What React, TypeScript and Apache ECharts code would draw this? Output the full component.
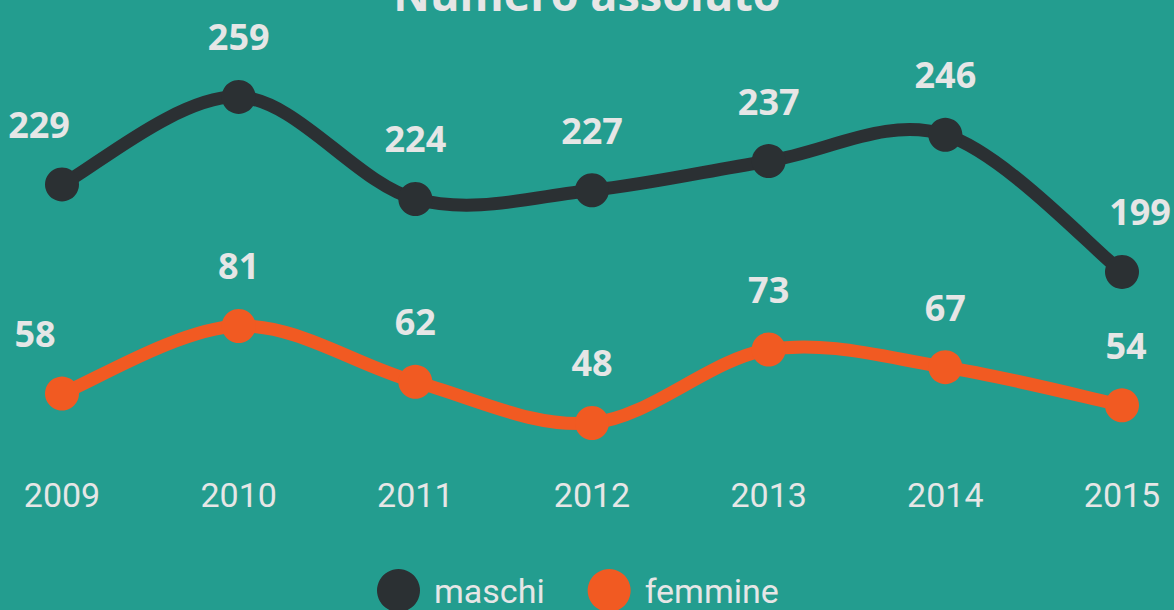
import React, { useEffect, useRef } from "react";
import * as echarts from "echarts";

const years = ["2009", "2010", "2011", "2012", "2013", "2014", "2015"];
const maschi = [229, 259, 224, 227, 237, 246, 199];
const femmine = [58, 81, 62, 48, 73, 67, 54];
const titleText = "Numero assoluto";

const TEXT = "#e6e6e6";
const BG = "#239d8f";
const DARK = "#2b3033";
const ORANGE = "#f15a22";

export default function App() {
  const ref = useRef<HTMLDivElement>(null);
  useEffect(() => {
    if (!ref.current) return;
    const chart = echarts.init(ref.current, null, { renderer: "svg" });
    const last = years.length - 1;
    const mk = (arr: number[], firstOff: number, lastOff: number) =>
      arr.map((v, i) =>
        i === 0
          ? { value: v, label: { offset: [firstOff, 0] } }
          : i === last
          ? { value: v, label: { offset: [lastOff, 0] } }
          : v
      );
    const labelStyle = {
      show: true,
      position: "top",
      distance: 25,
      color: TEXT,
      fontFamily: "Open Sans",
      fontWeight: "bold",
      fontSize: 36,
    };
    // Catmull-Rom (cardinal, tension 0) curve drawn segment by segment
    const curveSeries = (arr: number[], axis: number, color: string) => ({
      type: "custom",
      yAxisIndex: axis,
      silent: true,
      z: 1,
      data: arr.slice(0, -1).map((v, i) => [i, v]),
      renderItem: (params: any, api: any) => {
        const i = params.dataIndex;
        const pt = (j: number) => {
          const k = Math.max(0, Math.min(arr.length - 1, j));
          return api.coord([k, arr[k]]);
        };
        const p0 = pt(i - 1);
        const p1 = pt(i);
        const p2 = pt(i + 1);
        const p3 = pt(i + 2);
        return {
          type: "bezierCurve",
          shape: {
            x1: p1[0],
            y1: p1[1],
            x2: p2[0],
            y2: p2[1],
            cpx1: p1[0] + (p2[0] - p0[0]) / 6,
            cpy1: p1[1] + (p2[1] - p0[1]) / 6,
            cpx2: p2[0] - (p3[0] - p1[0]) / 6,
            cpy2: p2[1] - (p3[1] - p1[1]) / 6,
          },
          style: { stroke: color, lineWidth: 13, fill: null, lineCap: "round" },
        };
      },
    });
    chart.setOption({
      animation: false,
      backgroundColor: BG,
      title: {
        text: titleText,
        left: "center",
        top: -34,
        textStyle: { color: TEXT, fontFamily: "Open Sans", fontWeight: "bold", fontSize: 45 },
      },
      legend: {
        data: [
          { name: "maschi", icon: "circle" },
          { name: "femmine", icon: "circle" },
        ],
        top: 569,
        left: 377,
        padding: 0,
        itemWidth: 43,
        itemHeight: 43,
        itemGap: 43,
        textStyle: { color: TEXT, fontFamily: "Roboto", fontSize: 34, padding: [0, 0, 0, 9] },
      },
      grid: { left: 62, right: 52, top: 40, bottom: 140 },
      xAxis: {
        type: "category",
        data: years,
        boundaryGap: false,
        axisLine: { show: false },
        axisTick: { show: false },
        splitLine: { show: false },
        axisLabel: { color: TEXT, fontFamily: "Roboto", fontSize: 34, margin: 8 },
      },
      yAxis: [
        { type: "value", min: 131.1, max: 278.5, show: false, splitLine: { show: false } },
        { type: "value", min: 32, max: 178.3, show: false, splitLine: { show: false } },
      ],
      series: [
        curveSeries(maschi, 0, DARK),
        curveSeries(femmine, 1, ORANGE),
        {
          name: "maschi",
          type: "line",
          yAxisIndex: 0,
          z: 3,
          data: mk(maschi, -23, 18),
          symbol: "circle",
          symbolSize: 34,
          lineStyle: { color: DARK, width: 0, opacity: 0 },
          itemStyle: { color: DARK },
          label: labelStyle,
        },
        {
          name: "femmine",
          type: "line",
          yAxisIndex: 1,
          z: 3,
          data: mk(femmine, -27, 4),
          symbol: "circle",
          symbolSize: 34,
          lineStyle: { color: ORANGE, width: 0, opacity: 0 },
          itemStyle: { color: ORANGE },
          label: labelStyle,
        },
      ],
    });
    return () => chart.dispose();
  }, []);
  return (
    <div
      ref={ref}
      style={{ position: "fixed", left: 0, top: 0, width: 1174, height: 610 }}
    />
  );
}
